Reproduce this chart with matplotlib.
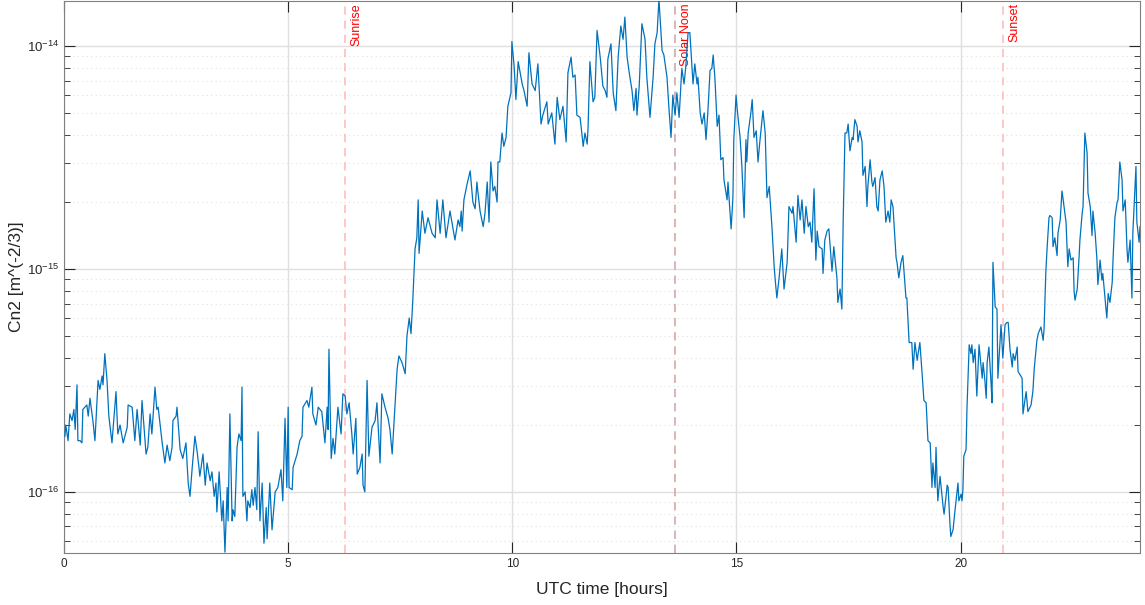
import numpy as np
import matplotlib.pyplot as plt
from matplotlib.ticker import NullFormatter, FixedLocator, LogLocator

plt.rcParams['font.family'] = ['Liberation Sans', 'DejaVu Sans']
plt.rcParams['mathtext.fontset'] = 'custom'
plt.rcParams['mathtext.rm'] = 'Liberation Sans'

# UTC hours and log10(Cn2) readings over the day
hours = [
    0.02, 0.04, 0.09, 0.13, 0.18, 0.22, 0.25, 0.29, 0.31, 0.36, 0.40, 0.42, 0.51, 0.54, 0.58, 0.65,
    0.69, 0.76, 0.80, 0.85, 0.87, 0.91, 0.96, 1.00, 1.07, 1.14, 1.16, 1.20, 1.25, 1.32, 1.41, 1.43,
    1.52, 1.58, 1.63, 1.70, 1.74, 1.83, 1.87, 1.92, 1.96, 2.03, 2.07, 2.10, 2.19, 2.25, 2.30, 2.36,
    2.41, 2.43, 2.50, 2.52, 2.59, 2.65, 2.72, 2.77, 2.81, 2.86, 2.92, 2.97, 3.01,
    3.03, 3.10, 3.15, 3.19, 3.26, 3.30, 3.35, 3.39, 3.41, 3.46, 3.52, 3.55, 3.59, 3.64, 3.66, 3.70,
    3.75, 3.77, 3.81, 3.86, 3.90, 3.95, 3.97, 3.99, 4.04, 4.08, 4.10, 4.15, 4.19, 4.22, 4.26, 4.30,
    4.33, 4.37, 4.42, 4.46, 4.51, 4.53, 4.59, 4.64, 4.71, 4.77, 4.84, 4.88, 4.93, 4.97, 5.00, 5.02,
    5.09, 5.11, 5.20, 5.26, 5.31, 5.33, 5.42, 5.46, 5.53, 5.55, 5.62, 5.67, 5.75, 5.82, 5.87, 5.89,
    5.91,
    5.96, 6.00, 6.04, 6.11, 6.18, 6.22, 6.27, 6.31, 6.36, 6.42, 6.45, 6.51, 6.54, 6.60, 6.65, 6.67,
    6.71, 6.76, 6.80, 6.87, 6.94, 6.98, 7.05, 7.09, 7.16, 7.23, 7.27, 7.32, 7.36, 7.43, 7.47, 7.54,
    7.61, 7.65, 7.70, 7.74, 7.78, 7.83, 7.87, 7.90, 7.92, 7.99, 8.05, 8.12, 8.21, 8.28, 8.32, 8.39,
    8.45, 8.52, 8.61, 8.72, 8.79,
    8.83, 8.86, 8.88, 8.92, 8.99, 9.06, 9.12, 9.17, 9.21, 9.23, 9.28, 9.35, 9.39, 9.44, 9.48, 9.52,
    9.57, 9.61, 9.66, 9.68, 9.72, 9.77, 9.81, 9.86, 9.90, 9.97, 9.99, 10.04, 10.08, 10.13, 10.22,
    10.26, 10.33, 10.37, 10.44, 10.51, 10.57, 10.64, 10.68, 10.77, 10.80, 10.88, 10.95, 11.00, 11.06,
    11.13, 11.20, 11.24, 11.31, 11.35, 11.40, 11.44, 11.51,
    11.55, 11.58, 11.62, 11.67, 11.69, 11.73, 11.80, 11.84, 11.89, 11.96, 12.02, 12.07, 12.11, 12.13,
    12.20, 12.25, 12.31, 12.36, 12.42, 12.47, 12.51, 12.56, 12.60, 12.67, 12.71, 12.76, 12.78, 12.83,
    12.89, 12.96, 13.00, 13.07, 13.14, 13.18, 13.23, 13.27, 13.34, 13.38, 13.45, 13.49, 13.54, 13.58,
    13.63, 13.67, 13.72, 13.78, 13.83, 13.87, 13.92,
    13.96, 14.03, 14.07, 14.12, 14.14, 14.19, 14.23, 14.28, 14.32, 14.36, 14.41, 14.45, 14.48, 14.52,
    14.57, 14.61, 14.65, 14.70, 14.72, 14.79, 14.81, 14.88, 14.92, 14.94, 14.99, 15.01, 15.08, 15.12,
    15.17, 15.21, 15.23, 15.26, 15.32, 15.35, 15.39, 15.44, 15.48, 15.52, 15.59, 15.64, 15.68, 15.73,
    15.79, 15.84, 15.86, 15.90, 15.95, 16.01, 16.06, 16.13, 16.17, 16.24, 16.26, 16.33, 16.37, 16.42,
    16.46, 16.51, 16.55, 16.60,
    16.64, 16.68, 16.73, 16.77, 16.80, 16.84, 16.91, 16.93, 16.97, 17.02, 17.06, 17.13, 17.17, 17.24,
    17.26, 17.31, 17.35, 17.38, 17.42, 17.46, 17.49, 17.53, 17.58, 17.60, 17.64, 17.69, 17.71, 17.75,
    17.80, 17.82, 17.87, 17.91, 17.93, 17.98, 18.02, 18.04, 18.09, 18.13, 18.16, 18.20, 18.25, 18.29,
    18.33, 18.38, 18.42, 18.45, 18.49, 18.56, 18.58, 18.62, 18.67, 18.71, 18.74, 18.78, 18.80, 18.85,
    18.91, 18.94, 18.98, 19.03, 19.05, 19.09, 19.14, 19.18, 19.23, 19.27, 19.32, 19.36, 19.38, 19.43,
    19.45, 19.49,
    19.54, 19.61, 19.63, 19.70, 19.72, 19.76, 19.78, 19.83, 19.87, 19.94, 19.96, 20.01, 20.03, 20.05,
    20.07, 20.12, 20.14, 20.19, 20.23, 20.25, 20.28, 20.32, 20.36, 20.41, 20.48, 20.50, 20.54, 20.57,
    20.59, 20.63, 20.68, 20.70, 20.72, 20.77, 20.81, 20.83, 20.90, 20.94, 20.99, 21.03, 21.06, 21.10,
    21.15, 21.17, 21.21, 21.26, 21.28, 21.37, 21.39, 21.46, 21.50, 21.57, 21.61, 21.64, 21.70, 21.73,
    21.79, 21.84, 21.86, 21.90, 21.93, 21.97, 21.99, 22.04, 22.06, 22.10, 22.15, 22.17, 22.22, 22.26,
    22.28, 22.35, 22.39, 22.42, 22.46, 22.51, 22.53, 22.55, 22.60, 22.64, 22.66, 22.71, 22.73, 22.77,
    22.82, 22.84, 22.89, 22.93, 22.95, 23.00, 23.04, 23.06, 23.11, 23.15, 23.17, 23.22, 23.26, 23.29,
    23.33, 23.38, 23.40, 23.44, 23.49, 23.51, 23.55, 23.60, 23.62, 23.67, 23.71, 23.73, 23.78, 23.82,
    23.84, 23.91, 23.93, 23.98, 24.00,
]

log_cn2 = [
    -15.75, -15.70, -15.77, -15.65, -15.68, -15.63, -15.72, -15.52, -15.77, -15.77, -15.78, -15.63,
    -15.61, -15.66, -15.58, -15.69, -15.77, -15.50, -15.54, -15.48, -15.52, -15.38, -15.50, -15.66,
    -15.78, -15.60, -15.55, -15.74, -15.70, -15.78, -15.71, -15.61, -15.62, -15.77, -15.63, -15.79,
    -15.59, -15.83, -15.80, -15.65, -15.74, -15.53, -15.63, -15.62, -15.78, -15.87, -15.79, -15.86,
    -15.80, -15.68, -15.66, -15.62, -15.81, -15.85, -15.78, -15.96, -16.02, -15.89, -15.75, -15.82,
    -15.89,
    -15.93, -15.83, -15.97, -15.87, -15.95, -15.91, -16.02, -15.96, -16.09, -15.91, -16.13, -16.04,
    -16.27, -15.98, -16.13, -15.65, -16.13, -16.08, -16.11, -15.80, -15.74, -15.77, -15.53, -16.02,
    -16.00, -16.13, -16.04, -16.07, -15.99, -16.06, -15.98, -16.08, -15.73, -16.13, -15.96, -16.23,
    -16.07, -16.21, -15.96, -16.17, -16.00, -15.98, -15.90, -16.04, -15.67, -15.98, -15.62, -15.98,
    -15.99, -15.89, -15.83, -15.77, -15.75, -15.62, -15.59, -15.62, -15.53, -15.65, -15.70, -15.62,
    -15.64, -15.78, -15.62, -15.72, -15.36,
    -15.85, -15.76, -15.83, -15.62, -15.74, -15.56, -15.57, -15.65, -15.60, -15.74, -15.83, -15.67,
    -15.92, -15.89, -15.83, -15.97, -16.00, -15.50, -15.84, -15.71, -15.68, -15.60, -15.87, -15.56,
    -15.62, -15.67, -15.72, -15.83, -15.69, -15.45, -15.39, -15.42, -15.47, -15.30, -15.22, -15.29,
    -15.14, -14.91, -14.86, -14.69, -14.93, -14.74, -14.84, -14.77, -14.84, -14.86, -14.69, -14.84,
    -14.69, -14.86, -14.74, -14.87, -14.78,
    -14.81, -14.74, -14.83, -14.69, -14.62, -14.56, -14.70, -14.73, -14.61, -14.65, -14.74, -14.81,
    -14.75, -14.61, -14.79, -14.52, -14.65, -14.63, -14.70, -14.52, -14.52, -14.39, -14.45, -14.41,
    -14.27, -14.21, -13.98, -14.09, -14.24, -14.07, -14.17, -14.20, -14.27, -14.03, -14.17, -14.20,
    -14.08, -14.35, -14.31, -14.25, -14.35, -14.30, -14.44, -14.23, -14.33, -14.27, -14.43, -14.12,
    -14.05, -14.14, -14.13, -14.31, -14.32,
    -14.39, -14.45, -14.39, -14.44, -14.36, -14.07, -14.25, -14.23, -13.93, -14.05, -14.18, -14.20,
    -14.23, -14.06, -13.99, -14.21, -14.29, -14.05, -13.91, -13.97, -13.87, -14.05, -14.11, -14.20,
    -14.29, -14.19, -14.31, -14.18, -13.90, -13.97, -14.14, -14.32, -14.14, -13.99, -13.94, -13.79,
    -14.02, -14.04, -14.14, -14.27, -14.41, -14.22, -14.31, -14.21, -14.32, -14.10, -14.17, -14.09,
    -13.94,
    -13.94, -14.17, -14.08, -14.17, -14.14, -14.30, -14.35, -14.30, -14.42, -14.30, -14.11, -14.10,
    -14.04, -14.15, -14.36, -14.31, -14.51, -14.50, -14.60, -14.69, -14.61, -14.82, -14.68, -14.42,
    -14.22, -14.27, -14.41, -14.54, -14.77, -14.42, -14.52, -14.39, -14.30, -14.24, -14.41, -14.38,
    -14.52, -14.43, -14.29, -14.39, -14.68, -14.63, -14.81, -14.99, -15.04, -15.13, -15.04, -14.91,
    -15.09, -14.97, -14.72, -14.75, -14.72, -14.88, -14.67, -14.78, -14.69, -14.84, -14.72, -14.81,
    -14.79, -14.88, -14.64, -14.96, -14.83, -14.90, -14.91, -15.02, -14.87, -14.83, -14.82, -15.01,
    -14.90, -15.04, -15.15, -15.09, -15.18, -14.78, -14.39, -14.39, -14.35, -14.47, -14.41, -14.42,
    -14.33, -14.36, -14.43, -14.38, -14.43, -14.58, -14.54, -14.72, -14.63, -14.51, -14.61, -14.63,
    -14.59, -14.72, -14.74, -14.60, -14.56, -14.63, -14.79, -14.74, -14.79, -14.69, -14.72, -14.95,
    -14.97, -15.04, -14.97, -14.94, -15.02, -15.13, -15.13, -15.33, -15.33, -15.45, -15.33, -15.41,
    -15.38, -15.33, -15.47, -15.59, -15.60, -15.77, -15.78, -15.98, -15.87, -15.98, -15.80, -16.04,
    -15.93, -16.07, -16.10, -15.97, -15.98, -16.14, -16.20, -16.17, -16.09, -15.96, -16.04, -16.01,
    -16.04, -15.99, -15.84, -15.81, -15.63, -15.34, -15.38, -15.34, -15.42, -15.36, -15.57, -15.34,
    -15.49, -15.42, -15.50, -15.58, -15.42, -15.35, -15.52, -15.60, -14.97, -15.17, -15.18, -15.49,
    -15.25, -15.40, -15.25, -15.24, -15.24, -15.36, -15.44, -15.38, -15.41, -15.35, -15.46, -15.49,
    -15.65, -15.55, -15.64, -15.61, -15.55, -15.45, -15.32, -15.29, -15.26, -15.32, -15.27, -15.01,
    -14.90, -14.77, -14.76, -14.77, -14.90, -14.86, -14.94, -14.84, -14.78, -14.65, -14.68, -14.79,
    -14.99, -14.91, -14.96, -14.95, -15.10, -15.14, -15.09, -14.95, -14.87, -14.75, -14.72, -14.39,
    -14.48, -14.66, -14.72, -14.85, -14.74, -14.84, -14.96, -15.07, -14.96, -15.05, -15.02, -15.13,
    -15.22, -15.11, -15.15, -15.06, -14.95, -14.77, -14.70, -14.69, -14.52, -14.60, -14.74, -14.69,
    -14.91, -14.97, -14.87, -15.13, -14.84, -14.54, -14.79, -14.88, -14.81,
]

event_names = ['Sunrise', 'Solar Noon', 'Sunset']
event_hours = [6.27, 13.63, 20.95]
event_colors = ['#ffbdbd', '#d4a8a8', '#ffbdbd']

decades = [-16, -15, -14]

cn2 = 10.0 ** np.array(log_cn2)

fig = plt.figure(figsize=(11.45, 6.05), dpi=100)
ax = fig.add_axes([64 / 1145, 52 / 605, 1076 / 1145, 552 / 605])

ax.set_yscale('log')
ax.plot(hours, cn2, color='#0072BD', lw=0.9, zorder=3)

for name, t, c in zip(event_names, event_hours, event_colors):
    ax.axvline(t, color=c, ls=(0, (5, 3.5)), lw=1.2, zorder=2)
    ax.text(t + 0.11, 1.56e-14, name, rotation=90, ha='left', va='top',
            color='#ff0000', fontsize=9, zorder=2)

ax.set_xlim(0, 24)
ax.set_ylim(10 ** -16.274, 10 ** -13.798)
ax.xaxis.set_major_locator(FixedLocator([0, 5, 10, 15, 20]))
ax.yaxis.set_major_locator(FixedLocator([10.0 ** d for d in decades]))
ax.set_yticklabels([r'$10^{%d}$' % d for d in decades])
ax.yaxis.set_minor_locator(LogLocator(base=10, subs=np.arange(2, 10), numticks=20))
ax.yaxis.set_minor_formatter(NullFormatter())

ax.grid(True, which='major', color='#dfdfdf', lw=1.0, zorder=0)
ax.grid(True, which='minor', axis='y', color='#e2e2e2', lw=0.8, ls=(0, (1, 3)), zorder=0)
ax.set_axisbelow(True)

ax.tick_params(which='both', direction='in', top=True, right=True, colors='#262626')
ax.tick_params(axis='x', labelsize=8.5)
ax.tick_params(axis='y', labelsize=9.5)
ax.tick_params(which='major', length=8, width=0.8)
ax.tick_params(which='minor', length=4.5, width=0.6)
for s in ax.spines.values():
    s.set_color('#808080')
    s.set_linewidth(0.8)

ax.set_xlabel('UTC time [hours]', fontsize=12.5, color='#262626', labelpad=9)
ax.set_ylabel('Cn2 [m^(-2/3)]', fontsize=12.5, color='#262626')
ax.yaxis.set_label_coords(-0.037, 0.5)

fig.savefig('out.png', dpi=100)
